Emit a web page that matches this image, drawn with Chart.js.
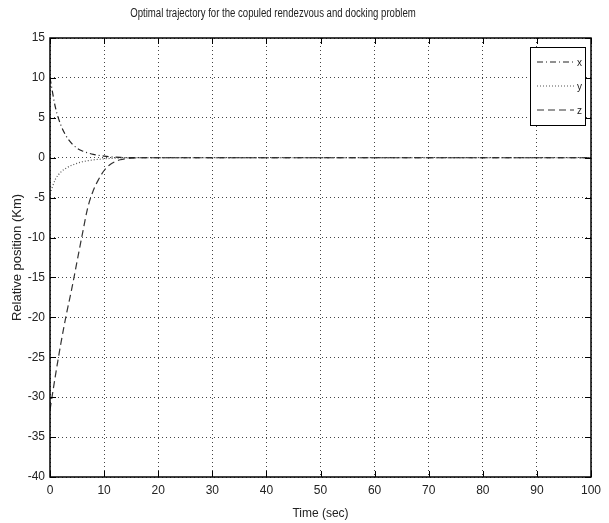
<!DOCTYPE html>
<html>
<head>
<meta charset="utf-8">
<script src="https://cdn.jsdelivr.net/npm/chart.js@4.4.0/dist/chart.umd.min.js"></script>
<style>
  html, body { margin: 0; padding: 0; background: #fff; }
  #wrap { width: 609px; height: 523px; }
</style>
</head>
<body>
<div id="wrap"><canvas id="trajChart" width="609" height="523"></canvas></div>
<script>
// time samples (sec) and relative positions (Km)
const timeSec = [0, 1, 2, 3, 4, 5, 6, 7, 8, 9, 10, 11, 12, 13, 14, 15, 17, 20, 100];
const posX = [10, 6.3, 4.1, 2.7, 1.8, 1.2, 0.85, 0.6, 0.42, 0.3, 0.2, 0.12, 0.07, 0.04, 0.02, 0.01, 0, 0, 0];
const posY = [-4.5, -2.7, -1.8, -1.3, -0.95, -0.7, -0.5, -0.37, -0.27, -0.2, -0.14, -0.1, -0.06, -0.04, -0.02, -0.01, 0, 0, 0];
const posZ = [-31.6, -27.3, -23.3, -19.7, -16.5, -13, -9.5, -6.2, -4.1, -2.7, -1.6, -0.9, -0.5, -0.25, -0.12, -0.05, 0, 0, 0];
const seriesNames = ['x', 'y', 'z'];
const xTicks = [0, 10, 20, 30, 40, 50, 60, 70, 80, 90, 100];
const yTicks = [15, 10, 5, 0, -5, -10, -15, -20, -25, -30, -35, -40];

const FONT = '"Liberation Sans Narrow", "Liberation Sans", Arial, sans-serif';

function pts(vals) {
    return timeSec.map((t, i) => ({ x: t, y: vals[i] }));
}

const dashes = [[6, 3, 1, 3], [1, 2], [7, 4]];
const colors = ['#222', '#555', '#333'];

const datasets = [posX, posY, posZ].map((vals, i) => ({
    label: seriesNames[i],
    data: pts(vals),
    borderColor: colors[i],
    borderWidth: 1.2,
    borderDash: dashes[i],
    pointRadius: 0,
    tension: 0.4,
    cubicInterpolationMode: 'monotone',
    fill: false
}));

// title drawn off-centre (and a bit condensed) like the original figure
const titlePlugin = {
    id: 'figTitle',
    afterDraw(c) {
        const ctx = c.ctx;
        ctx.save();
        ctx.fillStyle = '#222';
        ctx.font = '12px ' + FONT;
        ctx.textAlign = 'center';
        ctx.textBaseline = 'middle';
        ctx.translate(273, 14);
        ctx.scale(0.8, 1);
        ctx.fillText('Optimal trajectory for the copuled rendezvous and docking problem', 0, 0);
        ctx.restore();
    }
};

// inward tick marks on all four sides
const tickPlugin = {
    id: 'inTicks',
    afterDatasetsDraw(c) {
        const { ctx, chartArea: a, scales } = c;
        ctx.save();
        ctx.strokeStyle = '#000';
        ctx.lineWidth = 1;
        ctx.beginPath();
        xTicks.forEach(v => {
            const px = Math.round(scales.x.getPixelForValue(v)) + 0.5;
            ctx.moveTo(px, a.bottom); ctx.lineTo(px, a.bottom - 6);
            ctx.moveTo(px, a.top); ctx.lineTo(px, a.top + 6);
        });
        yTicks.forEach(v => {
            const py = Math.round(scales.y.getPixelForValue(v)) + 0.5;
            ctx.moveTo(a.left, py); ctx.lineTo(a.left + 6, py);
            ctx.moveTo(a.right, py); ctx.lineTo(a.right - 6, py);
        });
        ctx.stroke();
        ctx.lineWidth = 1.5;
        ctx.strokeRect(a.left, a.top, a.right - a.left, a.bottom - a.top);
        ctx.restore();
    }
};

// matlab-style legend box in the upper right corner
const legendPlugin = {
    id: 'boxLegend',
    afterDraw(c) {
        const ctx = c.ctx;
        const a = c.chartArea;
        const bx = a.right - 61, by = a.top + 9, bw = 55, bh = 78;
        ctx.save();
        ctx.fillStyle = '#fff';
        ctx.fillRect(bx, by, bw, bh);
        ctx.strokeStyle = '#000';
        ctx.lineWidth = 1;
        ctx.strokeRect(bx + 0.5, by + 0.5, bw, bh);
        ctx.font = '10px ' + FONT;
        ctx.textBaseline = 'middle';
        c.data.datasets.forEach((ds, i) => {
            const ly = by + 15 + i * 24;
            ctx.strokeStyle = ds.borderColor;
            ctx.lineWidth = 1.2;
            ctx.setLineDash(ds.borderDash);
            ctx.beginPath();
            ctx.moveTo(bx + 7, ly);
            ctx.lineTo(bx + 44, ly);
            ctx.stroke();
            ctx.setLineDash([]);
            ctx.fillStyle = '#222';
            ctx.fillText(ds.label, bx + 47, ly + 1);
        });
        ctx.restore();
    }
};

const gridOpts = {
    color: '#444',
    lineWidth: 1,
    drawTicks: false
};

new Chart(document.getElementById('trajChart').getContext('2d'), {
    type: 'line',
    data: { datasets },
    options: {
        responsive: false,
        animation: false,
        layout: { padding: { left: 10, right: 18, top: 38, bottom: 2 } },
        plugins: {
            legend: { display: false },
            tooltip: { enabled: false }
        },
        scales: {
            x: {
                type: 'linear',
                min: 0,
                max: 100,
                afterBuildTicks: s => { s.ticks = xTicks.map(v => ({ value: v })); },
                afterFit: s => { s.height = 44; },
                grid: gridOpts,
                border: { display: false, dash: [1, 3] },
                ticks: { color: '#222', font: { family: FONT, size: 12 }, padding: 6 },
                title: {
                    display: true,
                    text: 'Time (sec)',
                    color: '#222',
                    font: { family: FONT, size: 12 },
                    padding: { top: 2, bottom: 0 }
                }
            },
            y: {
                min: -40,
                max: 15,
                afterBuildTicks: s => { s.ticks = yTicks.map(v => ({ value: v })); },
                afterFit: s => { s.width = 40; },
                grid: gridOpts,
                border: { display: false, dash: [1, 3] },
                ticks: { color: '#222', font: { family: FONT, size: 12 }, padding: 5 },
                title: {
                    display: true,
                    text: 'Relative position (Km)',
                    color: '#222',
                    font: { family: 'Liberation Sans, Arial, sans-serif', size: 13 },
                    padding: { top: 0, bottom: 4 }
                }
            }
        }
    },
    plugins: [titlePlugin, tickPlugin, legendPlugin]
});
</script>
</body>
</html>
